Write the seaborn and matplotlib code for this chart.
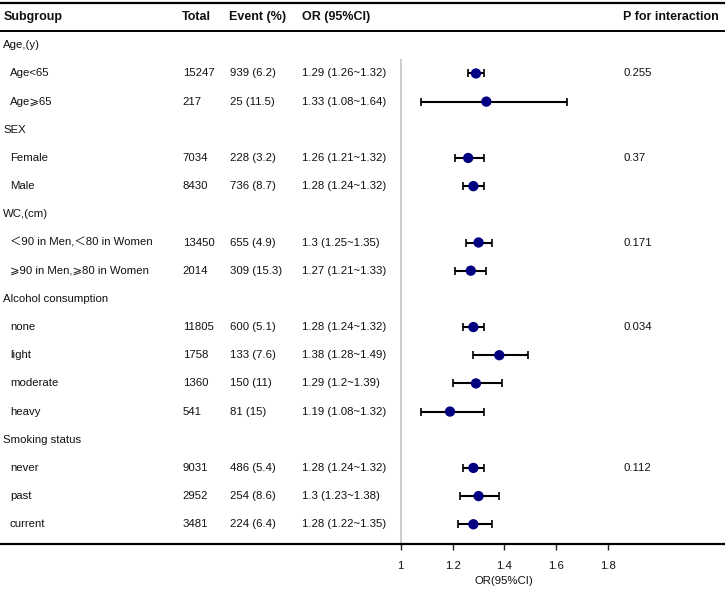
import matplotlib
matplotlib.use("Agg")
import matplotlib.pyplot as plt
import pandas as pd
import numpy as np
import seaborn as sns

sns.set_theme(style="white")
plt.rcParams['font.family'] = ['Liberation Sans', 'Noto Sans CJK SC', 'DejaVu Sans']
plt.rcParams['text.color'] = '#111111'

# table rows, top to bottom (None = group header row)
row_labels = ["Age,(y)", "Age<65", "Age⩾65",
              "SEX", "Female", "Male",
              "WC,(cm)", "＜90 in Men,＜80 in Women", "⩾90 in Men,⩾80 in Women",
              "Alcohol consumption", "none", "light", "moderate", "heavy",
              "Smoking status", "never", "past", "current"]
totals = [None, 15247, 217, None, 7034, 8430, None, 13450, 2014,
          None, 11805, 1758, 1360, 541, None, 9031, 2952, 3481]
events = [None, 939, 25, None, 228, 736, None, 655, 309,
          None, 600, 133, 150, 81, None, 486, 254, 224]
event_pct = [None, 6.2, 11.5, None, 3.2, 8.7, None, 4.9, 15.3,
             None, 5.1, 7.6, 11, 15, None, 5.4, 8.6, 6.4]
odds = [None, 1.29, 1.33, None, 1.26, 1.28, None, 1.30, 1.27,
        None, 1.28, 1.38, 1.29, 1.19, None, 1.28, 1.30, 1.28]
ci_low = [None, 1.26, 1.08, None, 1.21, 1.24, None, 1.25, 1.21,
          None, 1.24, 1.28, 1.20, 1.08, None, 1.24, 1.23, 1.22]
ci_high = [None, 1.32, 1.64, None, 1.32, 1.32, None, 1.35, 1.33,
           None, 1.32, 1.49, 1.39, 1.32, None, 1.32, 1.38, 1.35]
p_interaction = [None, 0.255, None, None, 0.37, None, None, 0.171, None,
                 None, 0.034, None, None, None, None, 0.112, None, None]
xticks = [1, 1.2, 1.4, 1.6, 1.8]

df = pd.DataFrame({"label": row_labels, "total": totals, "event": events,
                   "pct": event_pct, "OR": odds, "lo": ci_low, "hi": ci_high,
                   "p": p_interaction})
df["row"] = np.arange(len(df))
df["header"] = df["total"].isna()

W, H = 725, 591
fig = plt.figure(figsize=(W / 100, H / 100), dpi=100)
ax = fig.add_axes([0, 1 - 544 / H, 1, 541 / H])
ax.set_xlim(1 - 400.7 / 259.5, 1 + (W - 400.7) / 259.5)
ax.set_ylim(17.7, -1.5)

# reference line at OR = 1
ax.vlines(1, 0.5, 17.7, color="#c8c8c8", lw=1.3, zorder=1)

pts = df.dropna(subset=["OR"])
ax.errorbar(pts["OR"], pts["row"],
            xerr=[pts["OR"] - pts["lo"], pts["hi"] - pts["OR"]],
            fmt="none", ecolor="black", elinewidth=1.5, capsize=2.6,
            capthick=1.2, zorder=2)
sns.scatterplot(data=pts, x="OR", y="row", color="#000080", s=55,
                edgecolor="none", ax=ax, zorder=3)

# table text
tr = ax.get_yaxis_transform()
fs = 8.2
hdr = dict(fontsize=9, fontweight="bold", va="center", transform=tr)
ax.text(3.3 / W, -1, "Subgroup", ha="left", **hdr)
ax.text(182 / W, -1, "Total", ha="left", **hdr)
ax.text(228.7 / W, -1, "Event (%)", ha="left", **hdr)
ax.text(301.7 / W, -1, "OR (95%CI)", ha="left", **hdr)
ax.text(622.7 / W, -1, "P for interaction", ha="left", **hdr)

for _, r in df.iterrows():
    y = r["row"]
    if r["header"]:
        ax.text(3 / W, y, r["label"], fontsize=fs, va="center", transform=tr)
        continue
    ax.text(10 / W, y, r["label"], fontsize=fs, va="center", transform=tr)
    ax.text(182.7 / W, y, f"{int(r['total'])}", fontsize=fs, va="center", transform=tr)
    ax.text(230 / W, y, f"{int(r['event'])} ({r['pct']:g})", fontsize=fs,
            va="center", transform=tr)
    ax.text(301.7 / W, y, f"{r['OR']:g} ({r['lo']:g}~{r['hi']:g})", fontsize=fs,
            va="center", transform=tr)
    if pd.notna(r["p"]):
        ax.text(623 / W, y, f"{r['p']:g}", fontsize=fs, va="center", transform=tr)

# rules
ax.axhline(-0.5, color="black", lw=1.4)
for side in ["left", "right"]:
    ax.spines[side].set_visible(False)
for side in ["top", "bottom"]:
    ax.spines[side].set_visible(True)
    ax.spines[side].set_color("black")
    ax.spines[side].set_linewidth(1.6)

ax.set_yticks([])
ax.set_ylabel("")
ax.set_xticks(xticks)
ax.set_xticklabels([f"{t:g}" for t in xticks])
ax.tick_params(axis="x", bottom=True, direction="out", length=4.5, width=1,
               pad=8, labelsize=8.2, color="#222222", labelcolor="#111111")
ax.set_xlabel("OR(95%CI)", fontsize=8.2, color="#111111")
ax.xaxis.set_label_coords(504 / W, -(576 - 544) / 541)

fig.savefig("out.png", dpi=100)
